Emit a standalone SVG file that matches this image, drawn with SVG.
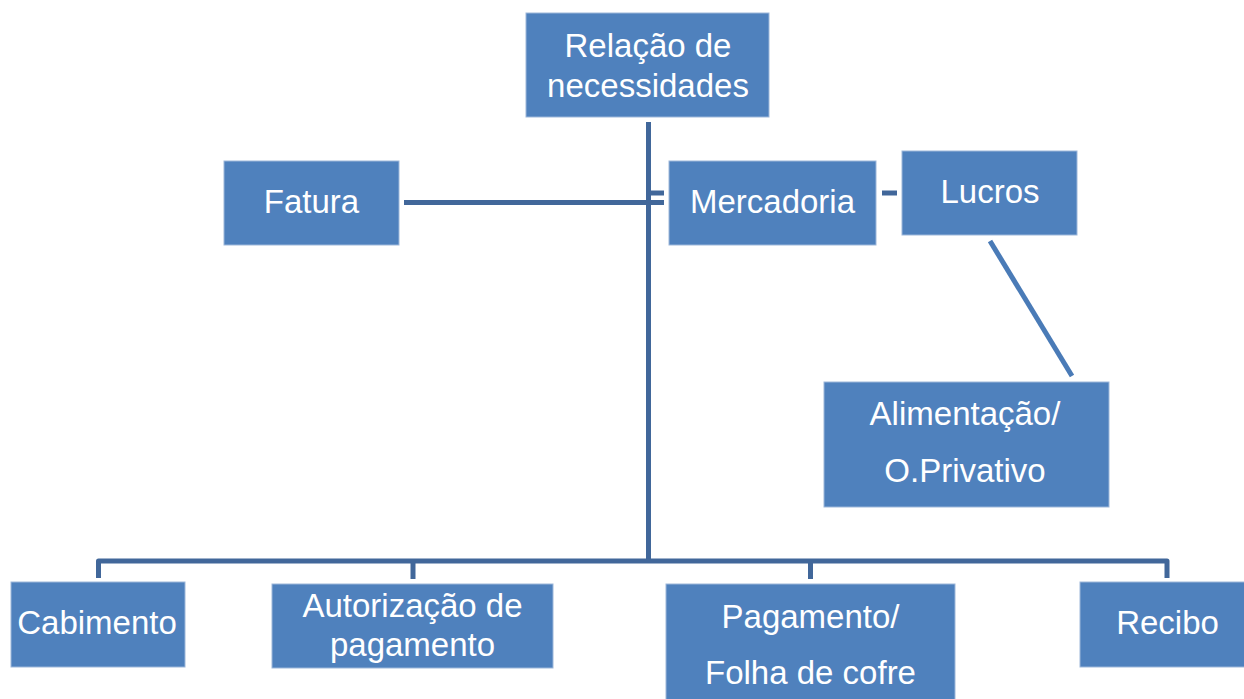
<svg xmlns="http://www.w3.org/2000/svg" width="1244" height="699" viewBox="0 0 1244 699">
<style>
.box{fill:#4F81BD;stroke:#9db7da;stroke-width:1}
.t{font-family:"Liberation Sans",Arial,sans-serif;font-size:33px;fill:#ffffff;text-anchor:middle}
.c{fill:none;stroke:#41679A;stroke-width:5;stroke-linejoin:round}
.d{fill:none;stroke:#4A7BB7;stroke-width:5}
</style>
<rect width="1244" height="699" fill="#ffffff"/>
<g id="connectors">
<path class="c" d="M648.5,122 V561"/>
<path class="c" d="M404,202.5 H664"/>
<path class="c" d="M651,193 H664"/>
<path class="c" d="M882,193 H897"/>
<path class="c" d="M98.5,578 V561 H1167 V578"/>
<path class="c" d="M413,561 V579"/>
<path class="c" d="M810.5,561 V579"/>
<path class="d" d="M990,241 L1072,376"/>
</g>
<g id="node-relacao">
<rect class="box" x="526" y="13" width="243" height="104"/>
<text class="t" x="648" y="57">Relação de</text>
<text class="t" x="648" y="97">necessidades</text>
</g>
<g id="node-fatura">
<rect class="box" x="224" y="161" width="175" height="84"/>
<text class="t" x="311.5" y="213">Fatura</text>
</g>
<g id="node-mercadoria">
<rect class="box" x="669" y="161" width="207" height="84"/>
<text class="t" x="772.5" y="213">Mercadoria</text>
</g>
<g id="node-lucros">
<rect class="box" x="902" y="151" width="175" height="84"/>
<text class="t" x="990" y="203">Lucros</text>
</g>
<g id="node-alimentacao">
<rect class="box" x="824" y="382" width="285" height="125"/>
<text class="t" x="965" y="425">Alimentação/</text>
<text class="t" x="965" y="482">O.Privativo</text>
</g>
<g id="node-cabimento">
<rect class="box" x="11" y="582" width="174" height="85"/>
<text class="t" x="97" y="634">Cabimento</text>
</g>
<g id="node-autorizacao">
<rect class="box" x="272" y="584" width="281" height="84"/>
<text class="t" x="412.5" y="617">Autorização de</text>
<text class="t" x="412.5" y="656">pagamento</text>
</g>
<g id="node-pagamento">
<rect class="box" x="666" y="584" width="289" height="125"/>
<text class="t" x="810.5" y="628">Pagamento/</text>
<text class="t" x="810.5" y="684">Folha de cofre</text>
</g>
<g id="node-recibo">
<rect class="box" x="1080" y="582" width="180" height="85"/>
<text class="t" x="1167.5" y="634">Recibo</text>
</g>
</svg>
